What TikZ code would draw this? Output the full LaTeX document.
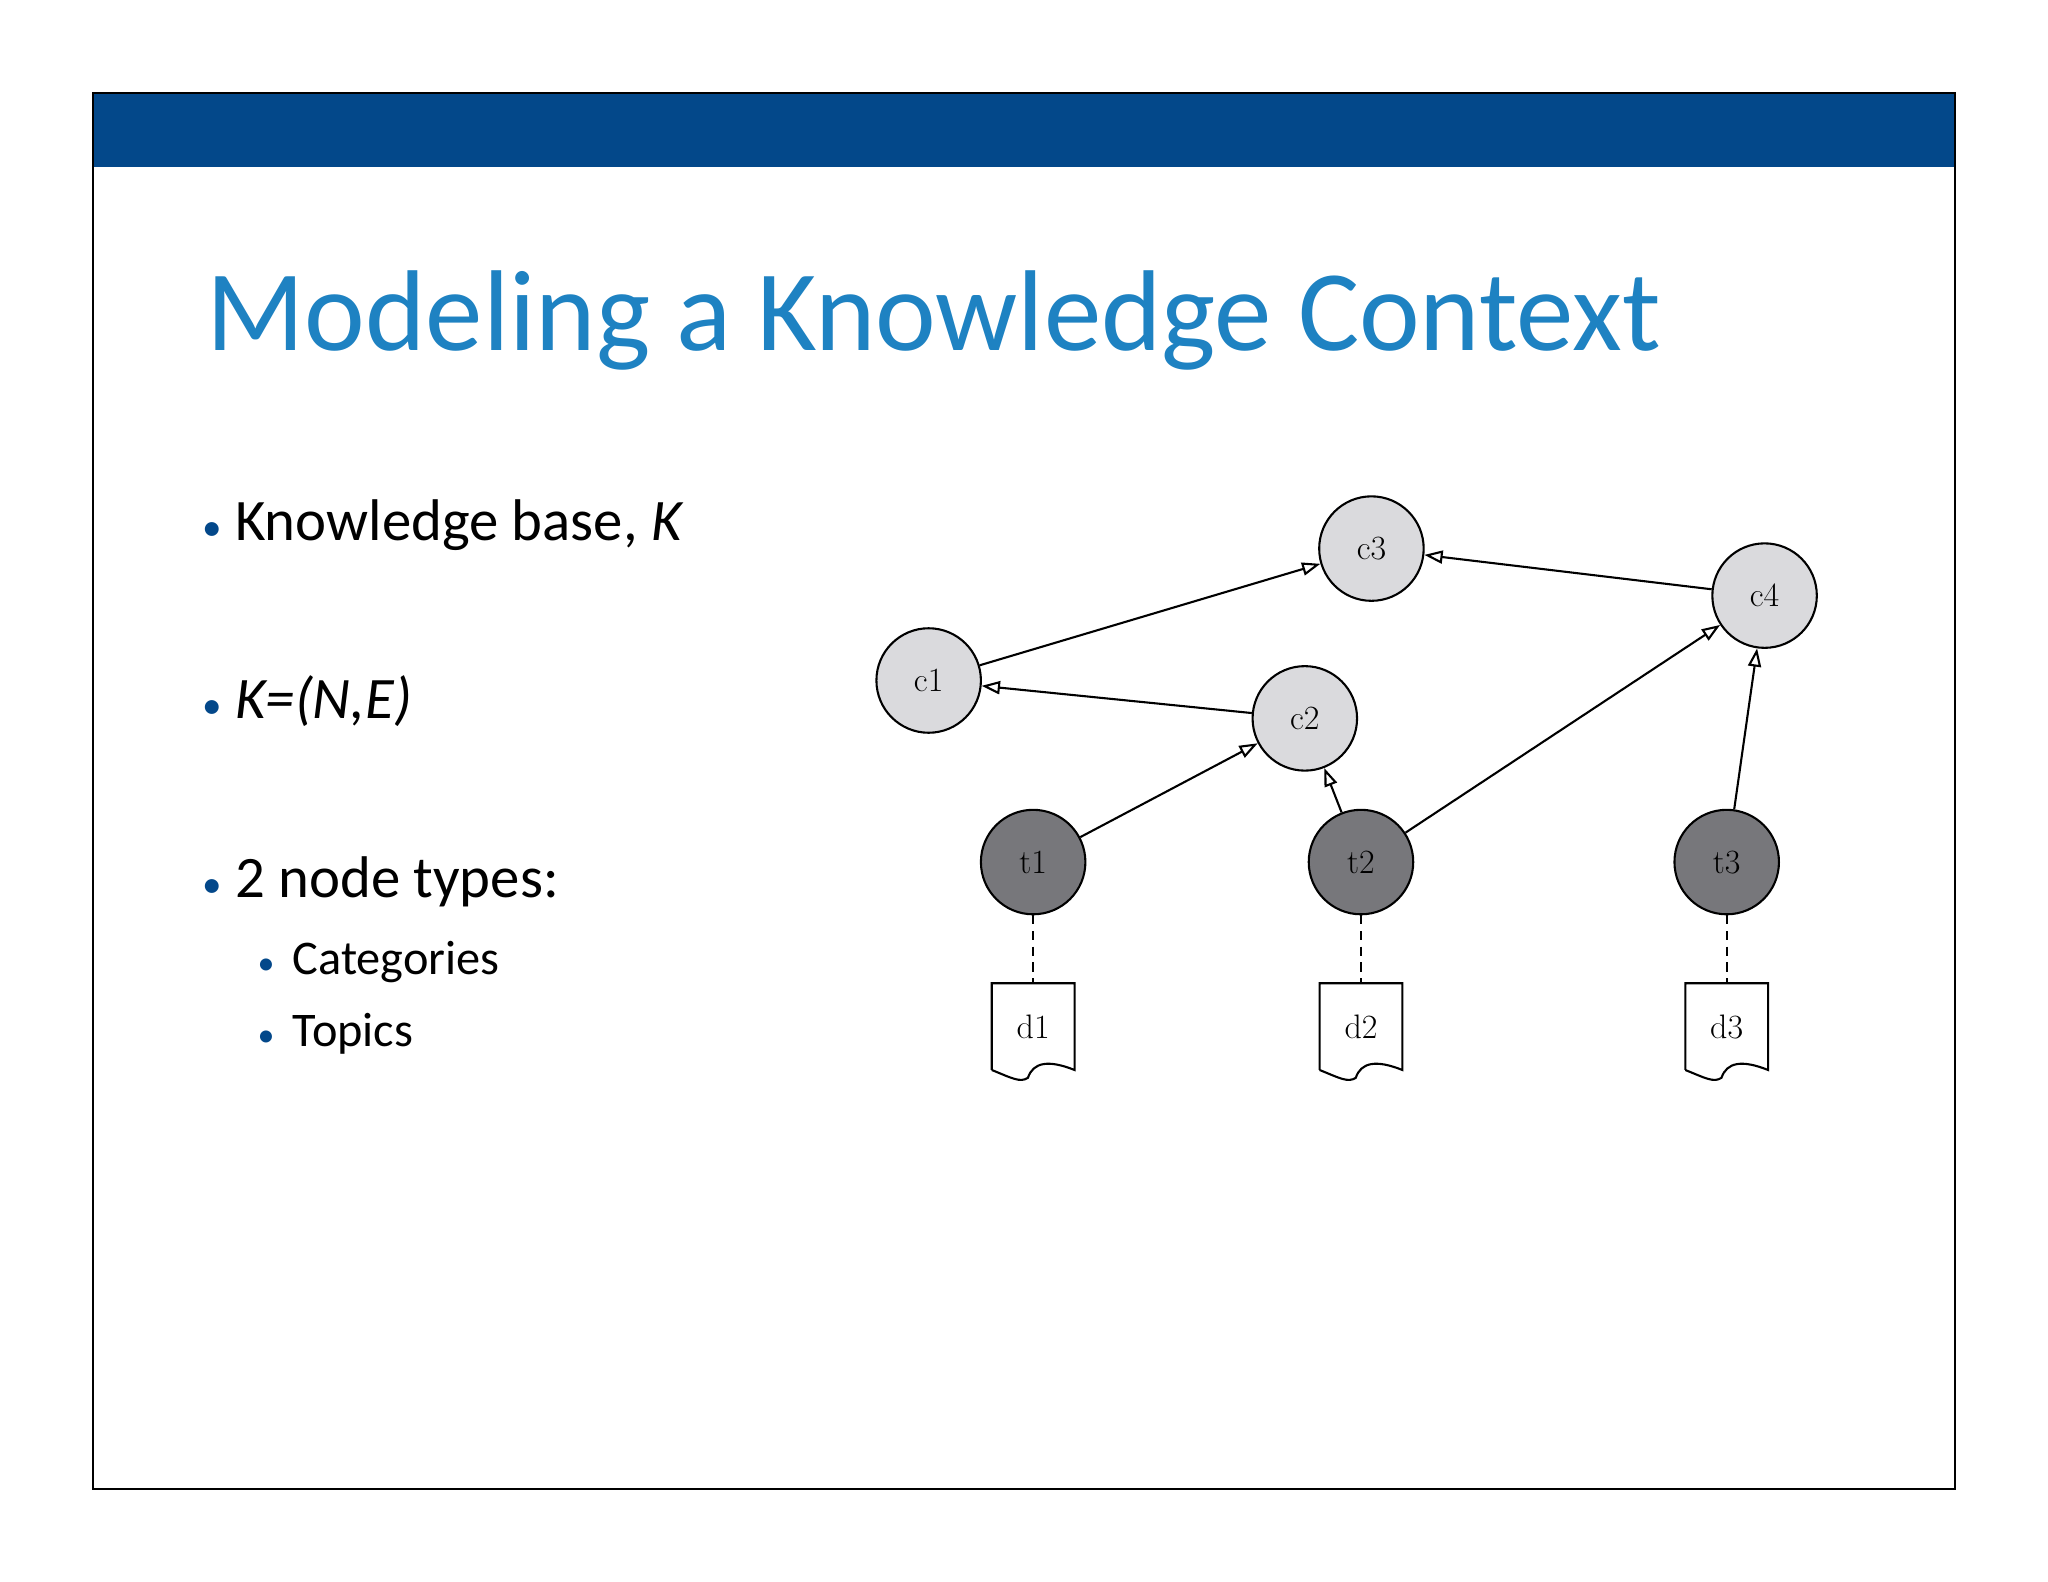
\documentclass[tikz,border=0pt]{standalone}
\usepackage{fontspec}
\setmainfont{Carlito}
\usetikzlibrary{arrows.meta,calc}
\definecolor{bar}{HTML}{03488A}
\definecolor{ttl}{HTML}{1E82C2}
\definecolor{cat}{HTML}{DADADD}
\definecolor{top}{HTML}{77777B}
\newfontfamily\lmr{Latin Modern Roman}
\begin{document}
\begin{tikzpicture}[x=1pt,y=-1pt,
  catn/.style={circle,draw,line width=1.6pt,fill=cat,minimum size=80pt,inner sep=0pt,font=\lmr\fontsize{26}{26}\selectfont},
  topn/.style={circle,draw,line width=1.6pt,fill=top,minimum size=80pt,inner sep=0pt,font=\lmr\fontsize{26}{26}\selectfont},
  docn/.style={minimum width=63pt,minimum height=66pt,inner sep=0pt,font=\lmr\fontsize{26}{26}\selectfont},
  edge/.style={line width=1.6pt,-{Triangle[open,length=14pt,width=10pt]}},
  dashln/.style={line width=1.6pt,dash pattern=on 7pt off 5pt}]
\useasboundingbox (0,0) rectangle (1568,1211);
\fill[white] (0,0) rectangle (1568,1211);
\fill[bar] (71,71) rectangle (1497,128);
\draw[line width=1.5pt] (71,71) rectangle (1497,1140);
\node[anchor=base west,text=ttl,font=\fontsize{88}{88}\selectfont,inner sep=0pt] (title) at (158,268) {Modeling a Knowledge Context};
\tikzset{b1/.style={anchor=base west,inner sep=0pt,font=\fontsize{45}{45}\selectfont},
 b2/.style={anchor=base west,inner sep=0pt,font=\fontsize{37}{37}\selectfont}}
\node[b1] (l1) at (155,414) {\textcolor{bar}{\fontsize{30}{30}\selectfont•}\hspace{10pt}Knowledge base, \textit{K}};
\node[b1] (l2) at (155,550) {\textcolor{bar}{\fontsize{30}{30}\selectfont•}\hspace{10pt}\textit{K=(N,E)}};
\node[b1] (l3) at (155,687) {\textcolor{bar}{\fontsize{30}{30}\selectfont•}\hspace{10pt}2 node types:};
\node[b2] (l4) at (197,746) {\textcolor{bar}{\fontsize{26}{26}\selectfont•}\hspace{14pt}Categories};
\node[b2] (l5) at (197,801) {\textcolor{bar}{\fontsize{26}{26}\selectfont•}\hspace{14pt}Topics};
\node[catn] (c1) at (711,521) {c1};
\node[catn] (c3) at (1050,420) {c3};
\node[catn] (c4) at (1351,456) {c4};
\node[catn] (c2) at (999,550) {c2};
\node[topn] (t1) at (791,660) {t1};
\node[topn] (t2) at (1042,660) {t2};
\node[topn] (t3) at (1322,660) {t3};
\foreach \d/\x in {d1/791,d2/1042,d3/1322}{
  \node[docn] (\d) at (\x,786) {\d};
  \draw[line width=1.6pt] (\d.south west) -- (\d.north west) -- (\d.north east) -- (\d.south east)
    .. controls ($(\d.south east)+(-20,-8)$) and ($(\d.south)+(0,-6)$) .. ($(\d.south)+(-4,6)$)
    .. controls ($(\d.south)+(-10,10)$) and ($(\d.south west)+(15,6)$) .. (\d.south west);
}
\draw[edge] (c1) -- (c3);
\draw[edge] (c4) -- (c3);
\draw[edge] (c2) -- (c1);
\draw[edge] (t1) -- (c2);
\draw[edge] (t2) -- (c2);
\draw[edge] (t2) -- (c4);
\draw[edge] (t3) -- (c4);
\draw[dashln] (t1) -- (d1);
\draw[dashln] (t2) -- (d2);
\draw[dashln] (t3) -- (d3);
\end{tikzpicture}
\end{document}
